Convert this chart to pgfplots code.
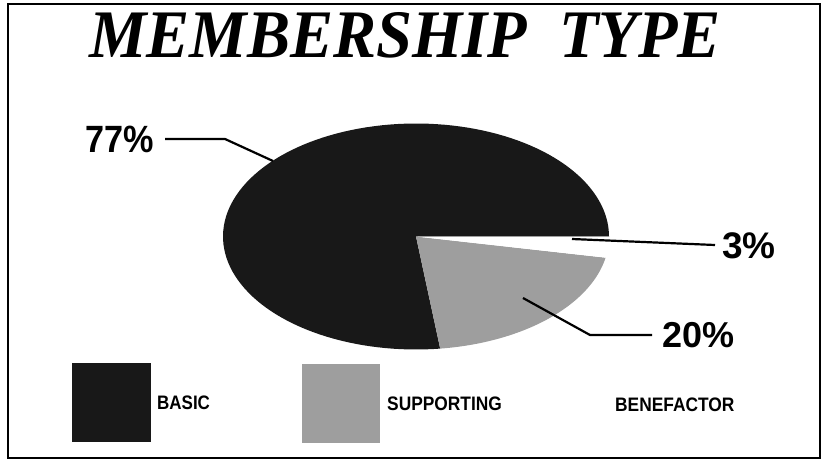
\documentclass[border=0pt]{standalone}
\usepackage{fontspec}
\setmainfont{Liberation Sans}
\newfontfamily\titlefont{Liberation Serif}
\usepackage{pgfplots}
\pgfplotsset{compat=1.18}
\definecolor{cbasic}{HTML}{181818}
\definecolor{csupp}{HTML}{9E9E9E}
\definecolor{cbene}{HTML}{FFFFFF}
% shares (percent)
\def\vBasic{77}
\def\vSupp{20}
\def\vBene{3}
\begin{document}
\begin{tikzpicture}
\pgfmathsetmacro{\aOne}{-\vBene*3.6}
\pgfmathsetmacro{\aTwo}{\aOne-\vSupp*3.6}
\pgfmathsetmacro{\aThree}{360+\aTwo}
\begin{axis}[
  width=826pt, height=460pt, scale only axis,
  xmin=0, xmax=826, ymin=0, ymax=460, y dir=reverse,
  hide axis, clip=false,
]
\path (axis cs:0,0) rectangle (axis cs:826,460);
% frame
\draw[black, line width=2pt] (axis cs:8,4) rectangle (axis cs:820,458);
% title
\node[anchor=base, inner sep=0pt] at (axis cs:405,57) {\titlefont\bfseries\itshape\fontsize{68}{68}\selectfont\scalebox{0.95}[1]{MEMBERSHIP\ \ TYPE}};
% pie slices
\addplot[fill=cbasic, draw=none, domain=0:\aThree, samples=120, variable=\t]
  ({416+193*cos(t)}, {236.5-113*sin(t)}) -- (axis cs:416,236.5) -- cycle;
\addplot[fill=csupp, draw=none, domain=\aTwo:\aOne, samples=60, variable=\t]
  ({416+193*cos(t)}, {236.5-113*sin(t)}) -- (axis cs:416,236.5) -- cycle;
\addplot[fill=cbene, draw=none, domain=\aOne:0, samples=20, variable=\t]
  ({416+193*cos(t)}, {236.5-113*sin(t)}) -- (axis cs:416,236.5) -- cycle;
% leader lines
\addplot[black, line width=2.2pt] coordinates {(165,139) (225,139) (273,161)};
\addplot[black, line width=2.2pt] coordinates {(572,239) (715,245)};
\addplot[black, line width=2.2pt] coordinates {(523,298) (590,335) (652,335)};
% value labels
\node[anchor=base west, inner sep=0pt] at (axis cs:85,152) {\bfseries\fontsize{38}{38}\selectfont\scalebox{0.9}[1]{77\%}};
\node[anchor=base west, inner sep=0pt] at (axis cs:722,258) {\bfseries\fontsize{37}{37}\selectfont 3\%};
\node[anchor=base west, inner sep=0pt] at (axis cs:662,347) {\bfseries\fontsize{36}{36}\selectfont 20\%};
% legend
\addplot[fill=cbasic, draw=none] coordinates {(72,363) (151,363) (151,442) (72,442)} -- cycle;
\addplot[fill=csupp, draw=none] coordinates {(302,364) (380,364) (380,443) (302,443)} -- cycle;
\addplot[fill=cbene, draw=none] coordinates {(532,364) (610,364) (610,443) (532,443)} -- cycle;
\node[anchor=base west, inner sep=0pt] at (axis cs:157,409) {\bfseries\fontsize{19.5}{19.5}\selectfont\scalebox{0.87}[1]{BASIC}};
\node[anchor=base west, inner sep=0pt] at (axis cs:387,410) {\bfseries\fontsize{19.5}{19.5}\selectfont\scalebox{0.89}[1]{SUPPORTING}};
\node[anchor=base west, inner sep=0pt] at (axis cs:615,411) {\bfseries\fontsize{19.5}{19.5}\selectfont\scalebox{0.89}[1]{BENEFACTOR}};
\end{axis}
\end{tikzpicture}
\end{document}
